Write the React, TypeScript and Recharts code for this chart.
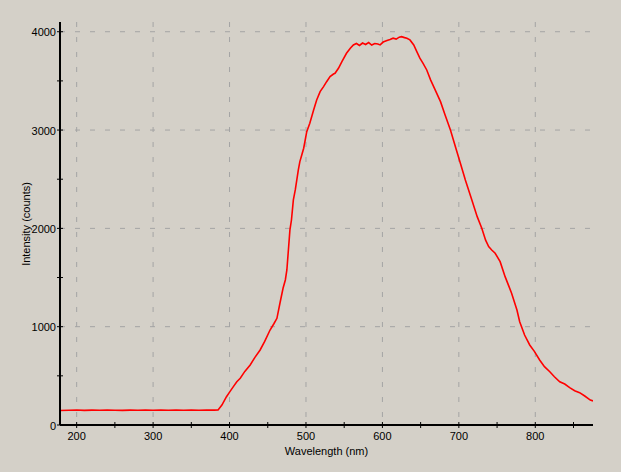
import React from 'react';
import { LineChart, Line, XAxis, YAxis, CartesianGrid } from 'recharts';

const wavelengths = [
  178.3, 178.4, 190, 200, 210, 220, 230, 240, 250, 260, 270, 280, 290, 300, 310, 320, 330, 340, 350, 360, 370, 380, 385,
  390, 396, 400.5, 405, 409.5, 414, 420, 427, 433, 440, 446, 453, 458, 462, 466, 470, 473, 475, 477, 479, 481, 483.5,
  486, 488, 490, 492, 494.5, 497, 499, 501, 505, 510, 514, 518.5, 523, 527, 531.5, 536, 538, 542.5, 547, 553, 558, 562,
  566, 570, 574, 578, 582, 586, 590, 594, 597, 601, 606, 610, 614, 618, 622, 625, 629, 632, 636, 641, 645, 649, 653,
  658, 663, 669, 676, 682, 689, 695.5, 702, 708.5, 717, 724, 730, 735, 739, 743, 747.5, 754, 760.5, 765, 769, 776,
  779.6, 786, 792.7, 799, 805.7, 812, 819, 825, 832, 838.5, 845, 851.5, 858, 864.7, 872, 875.5,
];
const intensities = [
  0, 148, 150, 152, 149, 151, 150, 153, 150, 149, 151, 150, 152, 150, 151, 150, 152, 150, 151, 150, 152, 151, 153,
  203, 288, 339, 390, 440, 475, 545, 610, 685, 763, 850, 966, 1030, 1085, 1241, 1391, 1475, 1577, 1780, 1984, 2085, 2289,
  2391, 2492, 2594, 2679, 2747, 2815, 2899, 2984, 3070, 3204, 3306, 3391, 3442, 3492, 3543, 3570, 3577, 3628, 3696, 3781, 3832, 3866,
  3880, 3860, 3885, 3870, 3890, 3865, 3880, 3875, 3866, 3895, 3910, 3920, 3934, 3925, 3945, 3950, 3940, 3934, 3917, 3866, 3798, 3731, 3680,
  3611, 3510, 3408, 3289, 3154, 3001, 2831, 2662, 2492, 2289, 2119, 2001, 1880, 1814, 1780, 1747, 1661, 1509, 1420, 1340, 1170,
  1051, 915, 814, 746, 661, 593, 542, 491, 440, 417, 380, 349, 329, 295, 254, 245,
];

const xTicks = [200, 250, 300, 350, 400, 450, 500, 550, 600, 650, 700, 750, 800, 850];
const xLabeled = [200, 300, 400, 500, 600, 700, 800];
const yTicks = [0, 500, 1000, 1500, 2000, 2500, 3000, 3500, 4000];
const yLabeled = [0, 1000, 2000, 3000, 4000];
const xGrid = [200, 300, 400, 500, 600, 700, 800];
const yGrid = [1000, 2000, 3000, 4000];

const xTitle = 'Wavelength (nm)';
const yTitle = 'Intensity (counts)';

const data = wavelengths.map((w, i) => ({ w, v: intensities[i] }));

const FONT = '"Liberation Sans", Arial, sans-serif';

const YTick = (props: any) => {
  const { x, y, payload } = props;
  const v = payload.value;
  return (
    <g>
      <line x1={x - 3} x2={x + 3} y1={y} y2={y} stroke="#000" strokeWidth={1} />
      {yLabeled.includes(v) && (
        <text x={x - 4} y={y + 4.5} textAnchor="end" fontFamily={FONT} fontSize={11} fill="#000">
          {v}
        </text>
      )}
    </g>
  );
};

const XTick = (props: any) => {
  const { x, y, payload } = props;
  const v = payload.value;
  return (
    <g>
      <line x1={x} x2={x} y1={y - 3} y2={y + 3} stroke="#000" strokeWidth={1} />
      {xLabeled.includes(v) && (
        <text x={x} y={y + 14.5} textAnchor="middle" fontFamily={FONT} fontSize={11} fill="#000">
          {v}
        </text>
      )}
    </g>
  );
};

export default function App() {
  return (
    <div style={{ position: 'absolute', left: 0, top: 0, width: 621, height: 472, background: '#d4d0c8', overflow: 'hidden' }}>
      <LineChart width={621} height={472} data={data} margin={{ top: 22, right: 28, left: 0, bottom: 0 }}>
        <CartesianGrid
          stroke="#a4a4a4"
          strokeDasharray="5 10"
          horizontalValues={yGrid}
          verticalValues={xGrid}
        />
        <XAxis
          dataKey="w"
          type="number"
          domain={[178.2, 875.5]}
          ticks={xTicks}
          allowDataOverflow
          height={47}
          tickSize={0}
          tickMargin={0}
          tickLine={false}
          axisLine={{ stroke: '#000', strokeWidth: 2 }}
          tick={<XTick />}
          interval={0}
        />
        <YAxis
          type="number"
          domain={[0, 4099]}
          ticks={yTicks}
          allowDataOverflow
          width={60}
          tickSize={0}
          tickMargin={0}
          tickLine={false}
          axisLine={{ stroke: '#000', strokeWidth: 2 }}
          tick={<YTick />}
          interval={0}
        />
        <Line
          dataKey="v"
          type="linear"
          stroke="#ff0000"
          strokeWidth={1.6}
          dot={false}
          isAnimationActive={false}
        />
      </LineChart>
      <svg width={621} height={472} style={{ position: 'absolute', left: 0, top: 0, pointerEvents: 'none' }}>
        <text x={326.5} y={454.5} textAnchor="middle" fontFamily={FONT} fontSize={11} fill="#000">
          {xTitle}
        </text>
        <text x={29.7} y={224} textAnchor="middle" fontFamily={FONT} fontSize={11} fill="#000" transform="rotate(-90, 29.7, 224)">
          {yTitle}
        </text>
      </svg>
    </div>
  );
}
